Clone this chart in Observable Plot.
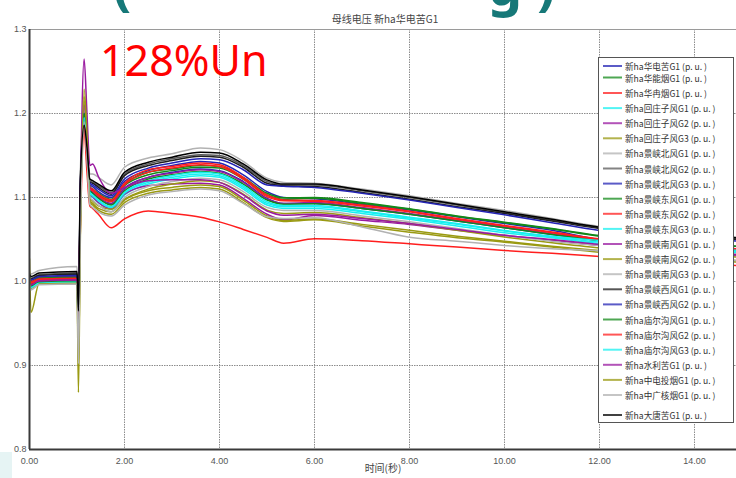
<!DOCTYPE html>
<html>
<head>
<meta charset="utf-8">
<script src="https://cdn.jsdelivr.net/npm/d3@7"></script>
<script src="https://cdn.jsdelivr.net/npm/@observablehq/plot@0.6"></script>
<style>
  html, body { margin: 0; padding: 0; background: #fff; }
  #wrap { position: relative; width: 736px; height: 478px; overflow: hidden; }
  #wrap > svg { display: block; }
  #overlay { position: absolute; left: 0; top: 0; pointer-events: none; }
</style>
</head>
<body>
<div id="wrap"></div>
<script>
// Bus voltage (p.u.) after the fault, one curve per station bus
const chartTitle = "母线电压 新ha华电苦G1";
const xAxisLabel = "时间(秒)";
const annotation = "128%Un";

const xTicks = [0, 2, 4, 6, 8, 10, 12, 14];
const yTicks = [0.8, 0.9, 1.0, 1.1, 1.2, 1.3];

// sample times (s)
const times = [0, 0.03, 0.2, 1.0, 1.03, 1.07, 1.15, 1.21, 1.27, 1.33, 1.45, 1.72, 2.0, 2.5, 3.0, 3.6, 4.0, 4.5, 5.0, 5.35, 6.0, 7.0, 8.0, 9.0, 10.0, 11.0, 12.0, 13.0, 14.0, 14.9];

const seriesNames = [
  "新ha华电苦G1", "新ha华能烟G1", "新ha华冉烟G1",
  "新ha回庄子风G1", "新ha回庄子风G2", "新ha回庄子风G3",
  "新ha景峡北风G1", "新ha景峡北风G2", "新ha景峡北风G3",
  "新ha景峡东风G1", "新ha景峡东风G2", "新ha景峡东风G3",
  "新ha景峡南风G1", "新ha景峡南风G2", "新ha景峡南风G3",
  "新ha景峡西风G1", "新ha景峡西风G2",
  "新ha庙尔沟风G1", "新ha庙尔沟风G2", "新ha庙尔沟风G3",
  "新ha水利苦G1", "新ha中电投烟G1", "新ha中广核烟G1", "新ha大唐苦G1"
];

// voltage values (p.u.) at the sample times, one list per bus
const v01 = [1.004, 1.001, 1.005, 1.006, 0.955, 1.10, 1.205, 1.160, 1.115, 1.113, 1.107, 1.100, 1.119, 1.132, 1.138, 1.143, 1.141, 1.127, 1.107, 1.100, 1.0985, 1.092, 1.085, 1.077, 1.069, 1.061, 1.050, 1.046, 1.042, 1.039];
const v02 = [1.001, 0.997, 1.002, 1.003, 0.955, 1.09, 1.200, 1.160, 1.111, 1.108, 1.103, 1.096, 1.114, 1.127, 1.132, 1.136, 1.135, 1.122, 1.103, 1.098, 1.099, 1.093, 1.086, 1.0775, 1.070, 1.0625, 1.054, 1.049, 1.045, 1.042];
const v03 = [1.003, 1.000, 1.004, 1.005, 0.950, 1.06, 1.180, 1.130, 1.090, 1.087, 1.080, 1.064, 1.0746, 1.084, 1.081, 1.0766, 1.071, 1.062, 1.0525, 1.0456, 1.0508, 1.0485, 1.0448, 1.041, 1.0369, 1.0335, 1.0298, 1.026, 1.022, 1.019];
const v04 = [0.996, 0.992, 0.997, 0.998, 0.946, 1.08, 1.190, 1.150, 1.103, 1.100, 1.094, 1.086, 1.103, 1.116, 1.122, 1.126, 1.124, 1.110, 1.091, 1.087, 1.087, 1.081, 1.074, 1.066, 1.058, 1.052, 1.045, 1.041, 1.037, 1.034];
const v05 = [0.998, 0.994, 0.999, 1.000, 0.950, 1.08, 1.200, 1.160, 1.105, 1.101, 1.094, 1.087, 1.104, 1.114, 1.116, 1.117, 1.115, 1.099, 1.080, 1.0734, 1.0786, 1.073, 1.0679, 1.061, 1.0548, 1.049, 1.0429, 1.038, 1.034, 1.031];
const v06 = [0.999, 0.994, 1.000, 1.001, 0.935, 1.07, 1.215, 1.170, 1.099, 1.096, 1.090, 1.086, 1.098, 1.110, 1.116, 1.120, 1.118, 1.104, 1.085, 1.081, 1.082, 1.076, 1.069, 1.061, 1.053, 1.046, 1.040, 1.036, 1.032, 1.029];
const v07 = [1.012, 1.009, 1.013, 1.018, 0.960, 1.13, 1.205, 1.170, 1.128, 1.128, 1.124, 1.115, 1.136, 1.147, 1.152, 1.159, 1.157, 1.143, 1.123, 1.118, 1.117, 1.110, 1.102, 1.093, 1.0845, 1.075, 1.0655, 1.060, 1.056, 1.053];
const v08 = [1.007, 1.004, 1.008, 1.010, 0.955, 1.12, 1.195, 1.160, 1.120, 1.118, 1.114, 1.106, 1.128, 1.140, 1.146, 1.151, 1.150, 1.138, 1.119, 1.115, 1.115, 1.108, 1.100, 1.091, 1.082, 1.073, 1.064, 1.058, 1.054, 1.051];
const v09 = [1.000, 0.996, 1.001, 1.002, 0.950, 1.09, 1.195, 1.155, 1.109, 1.106, 1.100, 1.093, 1.111, 1.124, 1.130, 1.134, 1.132, 1.119, 1.099, 1.093, 1.093, 1.087, 1.080, 1.072, 1.064, 1.056, 1.0488, 1.044, 1.040, 1.037];
const v10 = [1.003, 0.999, 1.004, 1.005, 0.957, 1.10, 1.198, 1.160, 1.113, 1.110, 1.105, 1.098, 1.116, 1.130, 1.134, 1.138, 1.137, 1.124, 1.105, 1.0996, 1.100, 1.094, 1.0865, 1.078, 1.0706, 1.063, 1.0548, 1.049, 1.045, 1.042];
const v11 = [1.002, 0.999, 1.003, 1.004, 0.960, 1.10, 1.190, 1.155, 1.112, 1.110, 1.104, 1.097, 1.117, 1.133, 1.137, 1.141, 1.139, 1.124, 1.103, 1.097, 1.0964, 1.091, 1.0837, 1.075, 1.0667, 1.059, 1.0508, 1.046, 1.042, 1.039];
const v12 = [0.998, 0.995, 0.999, 1.000, 0.948, 1.08, 1.192, 1.155, 1.105, 1.102, 1.096, 1.088, 1.105, 1.118, 1.124, 1.128, 1.126, 1.112, 1.093, 1.089, 1.089, 1.083, 1.0755, 1.068, 1.060, 1.053, 1.047, 1.043, 1.039, 1.036];
const v13 = [0.999, 0.995, 1.000, 1.001, 0.953, 1.09, 1.210, 1.170, 1.112, 1.108, 1.101, 1.092, 1.110, 1.124, 1.129, 1.133, 1.131, 1.118, 1.098, 1.093, 1.094, 1.088, 1.081, 1.073, 1.065, 1.057, 1.0495, 1.044, 1.040, 1.037];
const v14 = [0.997, 0.992, 0.998, 0.999, 0.900, 1.06, 1.220, 1.170, 1.097, 1.093, 1.087, 1.083, 1.097, 1.108, 1.112, 1.115, 1.113, 1.097, 1.078, 1.0726, 1.0745, 1.068, 1.061, 1.054, 1.048, 1.042, 1.037, 1.032, 1.028, 1.025];
const v15 = [0.997, 0.993, 0.998, 0.999, 0.930, 1.07, 1.185, 1.150, 1.100, 1.097, 1.091, 1.083, 1.100, 1.113, 1.119, 1.123, 1.121, 1.107, 1.088, 1.0845, 1.0845, 1.078, 1.071, 1.063, 1.055, 1.048, 1.043, 1.039, 1.035, 1.032];
const v16 = [1.006, 1.003, 1.007, 1.009, 0.962, 1.11, 1.190, 1.155, 1.118, 1.117, 1.112, 1.104, 1.126, 1.138, 1.144, 1.149, 1.148, 1.136, 1.117, 1.114, 1.113, 1.106, 1.098, 1.089, 1.081, 1.072, 1.063, 1.057, 1.053, 1.050];
const v17 = [1.005, 1.002, 1.006, 1.007, 0.958, 1.11, 1.200, 1.160, 1.117, 1.115, 1.110, 1.102, 1.122, 1.135, 1.141, 1.146, 1.145, 1.133, 1.115, 1.1135, 1.112, 1.105, 1.097, 1.088, 1.0794, 1.070, 1.0607, 1.055, 1.051, 1.048];
const v18 = [0.998, 0.994, 0.999, 1.000, 0.950, 1.09, 1.200, 1.160, 1.108, 1.105, 1.099, 1.091, 1.108, 1.122, 1.127, 1.131, 1.129, 1.116, 1.097, 1.092, 1.0925, 1.087, 1.080, 1.072, 1.064, 1.056, 1.049, 1.044, 1.040, 1.037];
const v19 = [1.001, 0.998, 1.002, 1.003, 0.952, 1.09, 1.185, 1.150, 1.110, 1.108, 1.102, 1.095, 1.115, 1.130, 1.135, 1.139, 1.137, 1.122, 1.101, 1.096, 1.0955, 1.090, 1.083, 1.074, 1.066, 1.058, 1.050, 1.045, 1.041, 1.038];
const v20 = [0.997, 0.993, 0.998, 0.999, 0.945, 1.08, 1.195, 1.160, 1.106, 1.103, 1.097, 1.089, 1.106, 1.120, 1.126, 1.130, 1.128, 1.114, 1.095, 1.0905, 1.0905, 1.084, 1.0766, 1.069, 1.0607, 1.054, 1.0488, 1.044, 1.040, 1.037];
const v21 = [1.000, 0.996, 1.001, 1.002, 0.955, 1.10, 1.265, 1.200, 1.138, 1.140, 1.125, 1.105, 1.112, 1.120, 1.121, 1.121, 1.118, 1.103, 1.084, 1.079, 1.080, 1.075, 1.069, 1.062, 1.055, 1.050, 1.044, 1.039, 1.035, 1.032];
const v22 = [1.027, 0.963, 0.997, 0.998, 0.868, 1.05, 1.229, 1.175, 1.095, 1.091, 1.085, 1.080, 1.094, 1.105, 1.109, 1.112, 1.110, 1.094, 1.076, 1.0715, 1.0734, 1.066, 1.0587, 1.052, 1.0468, 1.041, 1.0349, 1.030, 1.026, 1.023];
const v23 = [0.996, 0.990, 0.996, 0.997, 0.902, 1.06, 1.190, 1.150, 1.092, 1.088, 1.083, 1.078, 1.091, 1.103, 1.107, 1.110, 1.108, 1.093, 1.077, 1.075, 1.076, 1.065, 1.0528, 1.048, 1.043, 1.039, 1.0365, 1.032, 1.028, 1.025];
const v24 = [1.009, 1.006, 1.010, 1.012, 0.965, 1.12, 1.186, 1.160, 1.122, 1.120, 1.116, 1.108, 1.130, 1.142, 1.148, 1.154, 1.153, 1.140, 1.121, 1.116, 1.116, 1.109, 1.101, 1.092, 1.083, 1.074, 1.0647, 1.059, 1.055, 1.052];

const seriesValues = [v01, v02, v03, v04, v05, v06, v07, v08, v09, v10, v11, v12,
                      v13, v14, v15, v16, v17, v18, v19, v20, v21, v22, v23, v24];

// line palette, cycling blue/green/red/cyan/purple/olive/grey/dark
const palette = [
  "#2424b4", "#13891a", "#ff1e1e", "#18f0f0", "#9a1aa0", "#9a9a12", "#b2b2b2", "#5a5a5a",
  "#2424b4", "#13891a", "#ff1e1e", "#18f0f0", "#9a1aa0", "#9a9a12", "#b2b2b2", "#1e1e1e",
  "#2424b4", "#13891a", "#ff1e1e", "#18f0f0", "#9a1aa0", "#9a9a12", "#b2b2b2", "#000000"
];

const rows = seriesNames.flatMap((name, i) =>
  times.map((t, j) => ({name, t, v: seriesValues[i][j]}))
);

const chart = Plot.plot({
  width: 736,
  height: 478,
  marginTop: 29,
  marginRight: 0,
  marginBottom: 29,
  marginLeft: 29,
  style: {background: "#fff", fontFamily: "'Liberation Sans', Arial, sans-serif", fontSize: "9px", color: "#555"},
  x: {domain: [0, 14.884], label: null},
  y: {domain: [0.8, 1.3], label: null},
  color: {domain: seriesNames, range: palette},
  marks: [
    Plot.gridX(xTicks.slice(1), {stroke: "#8c8c8c", strokeOpacity: 1, strokeWidth: 1, strokeDasharray: "1.5,1"}),
    Plot.gridY(yTicks.slice(1, -1), {stroke: "#8c8c8c", strokeOpacity: 1, strokeWidth: 1, strokeDasharray: "1.5,1"}),
    Plot.ruleY([1.3], {stroke: "#9a9a9a", strokeWidth: 1}),
    Plot.line(rows, {x: "t", y: "v", z: "name", stroke: "name", strokeWidth: 1.5, curve: "monotone-x", clip: true}),
    Plot.ruleX([0], {stroke: "#3a3a3a", strokeWidth: 2}),
    Plot.ruleY([0.8], {stroke: "#3a3a3a", strokeWidth: 2}),
    Plot.axisX(xTicks, {tickSize: 0, tickPadding: 8, tickFormat: d => d.toFixed(2), fill: "#555", fontSize: 9, label: null}),
    Plot.axisY(yTicks, {tickSize: 0, tickPadding: 3, tickFormat: d => d.toFixed(1), fill: "#555", fontSize: 9, label: null}),
    Plot.text([xAxisLabel], {text: d => d, frameAnchor: "bottom", dy: 22, fill: "#444", fontSize: 10, fontFamily: "'Noto Sans CJK SC', sans-serif"}),
    Plot.text([chartTitle], {text: d => d, frameAnchor: "top", dy: -14, dx: 2, fill: "#444", fontSize: 10, fontFamily: "'Noto Sans CJK SC', sans-serif"})
  ]
});

const wrap = document.getElementById("wrap");
wrap.appendChild(chart);

// overlay: slide heading fragments, annotation and the legend box
const ov = d3.select(wrap).append("svg")
  .attr("id", "overlay")
  .attr("width", 736)
  .attr("height", 478);

ov.append("rect").attr("x", 0).attr("y", 452).attr("width", 12).attr("height", 26)
  .attr("fill", "#e6f4f4");

const heading = ov.append("g")
  .attr("fill", "#167878")
  .attr("font-family", "'Noto Sans', sans-serif")
  .attr("font-weight", "bold")
  .attr("font-size", 54);
heading.append("text").attr("x", 113).attr("y", 5).text("(");
heading.append("text").attr("x", 488).attr("y", 5).text("g");
heading.append("text").attr("x", 537).attr("y", 5).text(")");

ov.append("text")
  .attr("x", 100).attr("y", 76)
  .attr("fill", "#ff0000")
  .attr("font-family", "'Noto Sans', sans-serif")
  .attr("font-size", 43)
  .text(annotation);

const legend = ov.append("g");
legend.append("rect")
  .attr("x", 598.5).attr("y", 57.5).attr("width", 135).attr("height", 365)
  .attr("fill", "#fff").attr("stroke", "#555").attr("stroke-width", 1);

const rowY = i => i === 0 ? 66 : i === 1 ? 77.5 : i === seriesNames.length - 1 ? 415 : 93 + (i - 2) * 15.1;

seriesNames.forEach((name, i) => {
  const y = rowY(i);
  legend.append("line")
    .attr("x1", 603).attr("x2", 622).attr("y1", y).attr("y2", y)
    .attr("stroke", palette[i]).attr("stroke-width", 2).attr("stroke-opacity", 0.75);
  legend.append("text")
    .attr("x", 625).attr("y", y)
    .attr("dominant-baseline", "central")
    .attr("font-family", "'Noto Sans CJK SC', sans-serif")
    .attr("font-size", 8.6)
    .attr("fill", "#333")
    .text(name + " (p. u. )");
});
</script>
</body>
</html>
